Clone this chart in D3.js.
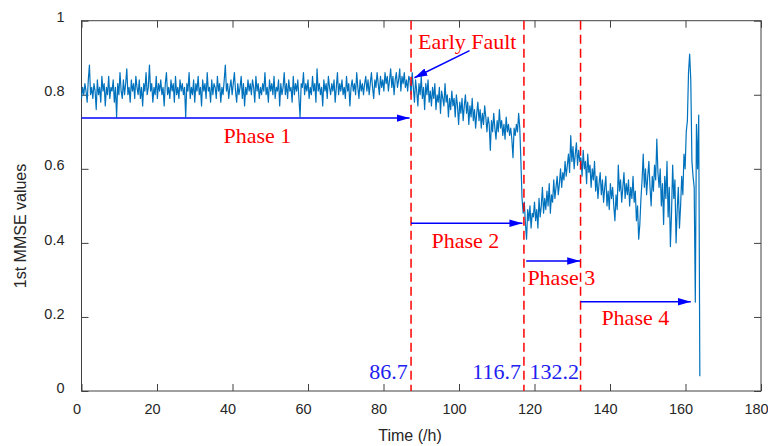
<!DOCTYPE html>
<html>
<head>
<meta charset="utf-8">
<script src="https://cdn.jsdelivr.net/npm/d3@7"></script>
<style>
  body { margin: 0; background: #fff; }
  svg { display: block; }
  .tick text { font-family: "Liberation Sans", Arial, sans-serif; font-size: 14.5px; fill: #262626; }
  .tick line, .box { stroke: #404040; }
</style>
</head>
<body>
<div id="chart"></div>
<script>
// 1st MMSE values, one sample every 0.3 h, split by phase
let phase1_values = [
  0.79,0.82,0.80,0.83,0.81,0.78,0.84,0.88,0.80,0.82,
  0.79,0.83,0.81,0.76,0.84,0.80,0.82,0.78,0.85,0.81,
  0.83,0.77,0.82,0.80,0.85,0.79,0.82,0.81,0.84,0.78,
  0.82,0.74,0.83,0.80,0.86,0.81,0.79,0.84,0.80,0.83,
  0.87,0.80,0.82,0.78,0.84,0.81,0.83,0.79,0.85,0.82,
  0.80,0.84,0.79,0.82,0.77,0.83,0.81,0.86,0.80,0.82,
  0.88,0.81,0.83,0.78,0.82,0.80,0.85,0.79,0.83,0.81,
  0.84,0.80,0.82,0.77,0.83,0.86,0.80,0.82,0.79,0.84,
  0.81,0.83,0.78,0.85,0.80,0.82,0.79,0.84,0.81,0.83,
  0.80,0.82,0.74,0.83,0.81,0.86,0.79,0.82,0.80,0.84,
  0.78,0.83,0.81,0.85,0.80,0.82,0.77,0.84,0.81,0.83,
  0.79,0.86,0.81,0.82,0.78,0.84,0.80,0.83,0.82,0.79,
  0.85,0.81,0.83,0.78,0.82,0.80,0.84,0.88,0.81,0.83,
  0.79,0.82,0.84,0.80,0.83,0.86,0.81,0.78,0.83,0.80,
  0.82,0.85,0.79,0.83,0.77,0.82,0.80,0.84,0.81,0.83,
  0.80,0.84,0.82,0.78,0.85,0.81,0.83,0.79,0.82,0.80,
  0.83,0.81,0.86,0.80,0.82,0.78,0.84,0.81,0.83,0.80,
  0.85,0.79,0.82,0.81,0.84,0.77,0.83,0.80,0.82,0.86,
  0.80,0.83,0.79,0.84,0.81,0.82,0.78,0.85,0.80,0.83,
  0.81,0.84,0.79,0.74,0.83,0.82,0.86,0.80,0.83,0.81,
  0.84,0.79,0.82,0.80,0.85,0.81,0.83,0.78,0.87,0.81,
  0.83,0.80,0.82,0.77,0.84,0.81,0.83,0.79,0.85,0.82,
  0.80,0.83,0.81,0.84,0.78,0.82,0.86,0.80,0.83,0.81,
  0.84,0.80,0.82,0.79,0.85,0.81,0.83,0.77,0.82,0.84,
  0.81,0.83,0.80,0.86,0.82,0.79,0.84,0.81,0.83,0.80,
  0.83,0.85,0.81,0.84,0.80,0.83,0.86,0.82,0.79,0.84,
  0.82,0.86,0.83,0.80,0.85,0.82,0.84,0.81,0.86,0.83,
  0.85,0.81,0.84,0.87,0.82,0.85,0.80,0.84,0.86,0.82,
  0.84,0.87,0.81,0.85,0.83,0.86,0.82,0.84,0.81,0.85
];
let phase2_values = [
  0.84,0.80,0.86,0.82,0.78,0.84,0.81,0.77,0.83,0.80,
  0.85,0.79,0.82,0.76,0.83,0.80,0.84,0.78,0.81,0.77,
  0.82,0.79,0.83,0.76,0.80,0.78,0.82,0.75,0.81,0.79,
  0.77,0.83,0.78,0.80,0.74,0.79,0.76,0.81,0.77,0.79,
  0.74,0.80,0.77,0.72,0.78,0.75,0.79,0.73,0.77,0.80,
  0.75,0.78,0.72,0.77,0.74,0.79,0.73,0.76,0.71,0.75,
  0.78,0.73,0.76,0.71,0.75,0.72,0.77,0.74,0.70,0.74,
  0.72,0.65,0.73,0.70,0.75,0.71,0.68,0.73,0.70,0.76,
  0.71,0.73,0.69,0.72,0.68,0.74,0.70,0.72,0.69,0.71,
  0.68,0.63,0.71,0.69,0.72,0.70,0.75,0.71,0.62,0.52
];
let phase3_values = [
  0.48,0.51,0.45,0.41,0.49,0.46,0.50,0.44,0.48,0.47,
  0.51,0.46,0.49,0.44,0.52,0.47,0.50,0.55,0.48,0.52,
  0.49,0.54,0.50,0.56,0.48,0.53,0.51,0.57,0.52,0.55,
  0.58,0.53,0.56,0.60,0.55,0.59,0.57,0.62,0.58,0.61,
  0.64,0.59,0.69,0.62,0.66,0.60,0.64,0.67,0.61,0.65
];
let phase4_values = [
  0.62,
  0.63,0.58,0.65,0.60,0.62,0.56,0.64,0.59,0.61,0.55,
  0.60,0.57,0.62,0.54,0.58,0.52,0.56,0.59,0.53,0.57,
  0.51,0.55,0.58,0.50,0.54,0.49,0.56,0.52,0.55,0.50,
  0.46,0.53,0.49,0.61,0.54,0.57,0.51,0.55,0.59,0.52,
  0.56,0.53,0.57,0.50,0.55,0.52,0.58,0.51,0.54,0.46,
  0.50,0.41,0.45,0.52,0.57,0.64,0.55,0.60,0.53,0.58,
  0.62,0.55,0.50,0.58,0.54,0.61,0.57,0.68,0.59,0.55,
  0.60,0.50,0.56,0.45,0.58,0.52,0.62,0.47,0.55,0.39,
  0.48,0.61,0.52,0.57,0.40,0.49,0.55,0.44,0.50,0.58,
  0.53,0.64,0.60,0.70,0.73,0.86,0.91,0.84,0.62,0.58,
  0.55,0.24,0.72,0.60,0.745,0.04
];
let sample_step = 0.3;

let x_ticks = [0, 20, 40, 60, 80, 100, 120, 140, 160, 180];
let y_ticks = [0, 0.2, 0.4, 0.6, 0.8, 1];

// phase boundaries (dashed lines) and their labels
let boundary_t = [87.3, 117.2, 132.2];
let boundary_text = ['86.7', '116.7', '132.2'];
let boundary_text_t = [86.4, 116.4, 118.7];
let boundary_text_anchor = ['end', 'end', 'start'];
let boundary_text_v = 0.032;

// phase arrows: start t, end t, value
let phase_names = ['Phase 1', 'Phase 2', 'Phase 3', 'Phase 4'];
let phase_arrow_from = [0, 87.3, 117.8, 132.2];
let phase_arrow_to = [86.9, 116.8, 132.1, 161.4];
let phase_arrow_v = [0.737, 0.453, 0.351, 0.241];
let phase_text_t = [46.6, 101.7, 127.1, 146.7];
let phase_text_v = [0.67, 0.387, 0.286, 0.178];

let fault_arrow = [102.8, 0.919, 88.2, 0.846];
let fault_text = [102.2, 0.924];

let all_values = phase1_values.concat(phase2_values, phase3_values, phase4_values);
let data = all_values.map((v, i) => [i * sample_step, v]);

let chart_width = 768;
let chart_height = 446;
let plot_left = 81.5, plot_right = 761, plot_top = 20.7, plot_bottom = 391;

let svg = d3.select('#chart')
            .append('svg')
            .attr('width', chart_width)
            .attr('height', chart_height);

let x_scale = d3.scaleLinear()
            .domain([0, 180])
            .range([plot_left, plot_right]);

let y_scale = d3.scaleLinear()
            .domain([0, 1])
            .range([plot_bottom, plot_top]);

//arrow heads
let defs = svg.append('defs');
defs.append('marker')
  .attr('id', 'head')
  .attr('markerUnits', 'userSpaceOnUse')
  .attr('viewBox', '0 -5 14 10')
  .attr('refX', 13)
  .attr('refY', 0)
  .attr('markerWidth', 14)
  .attr('markerHeight', 10)
  .attr('orient', 'auto')
  .append('path')
  .attr('d', 'M0,-3.8L13,0L0,3.8Z')
  .attr('fill', '#0000ff');

//axis
let x_axis = d3.axisBottom(x_scale)
  .tickValues(x_ticks)
  .tickFormat(d3.format('d'))
  .tickSizeInner(-7)
  .tickSizeOuter(0)
  .tickPadding(13);

svg.append('g')
  .attr('transform', 'translate(0,' + plot_bottom + ')')
  .call(x_axis)
  .call(g => g.select('.domain').remove())
  .call(g => g.selectAll('text').attr('dx', -5));

svg.append('g')
  .attr('transform', 'translate(0,' + plot_top + ')')
  .call(d3.axisTop(x_scale).tickValues(x_ticks).tickFormat('').tickSizeInner(-7).tickSizeOuter(0))
  .call(g => g.select('.domain').remove());

let y_axis = d3.axisLeft(y_scale)
  .tickValues(y_ticks)
  .tickFormat(d => d)
  .tickSizeInner(-7)
  .tickSizeOuter(0)
  .tickPadding(17);

svg.append('g')
  .attr('transform', 'translate(' + plot_left + ',0)')
  .call(y_axis)
  .call(g => g.select('.domain').remove())
  .call(g => g.selectAll('text').attr('dy', '0.08em'));

svg.append('g')
  .attr('transform', 'translate(' + plot_right + ',0)')
  .call(d3.axisRight(y_scale).tickValues(y_ticks).tickFormat('').tickSizeInner(-7).tickSizeOuter(0))
  .call(g => g.select('.domain').remove());

svg.append('rect')
  .attr('class', 'box')
  .attr('x', plot_left)
  .attr('y', plot_top)
  .attr('width', plot_right - plot_left)
  .attr('height', plot_bottom - plot_top)
  .attr('fill', 'none')
  .attr('stroke-width', 1);

svg.append('text')
  .attr('x', 410)
  .attr('y', 441)
  .attr('text-anchor', 'middle')
  .attr('font-family', '"Liberation Sans", Arial, sans-serif')
  .attr('font-size', 16)
  .attr('fill', '#262626')
  .text('Time (/h)');

svg.append('text')
  .attr('transform', 'translate(26,226) rotate(-90)')
  .attr('text-anchor', 'middle')
  .attr('font-family', '"Liberation Sans", Arial, sans-serif')
  .attr('font-size', 16)
  .attr('fill', '#262626')
  .text('1st MMSE values');

//series
let line = d3.line()
  .x(d => x_scale(d[0]))
  .y(d => y_scale(d[1]));

svg.append('path')
  .datum(data)
  .attr('d', line)
  .attr('fill', 'none')
  .attr('stroke', '#0072bd')
  .attr('stroke-width', 1.2)
  .attr('stroke-linejoin', 'round');

//phase boundaries
svg.selectAll('.boundary')
  .data(boundary_t)
  .enter()
  .append('line')
  .attr('class', 'boundary')
  .attr('x1', d => x_scale(d))
  .attr('x2', d => x_scale(d))
  .attr('y1', y_scale(1))
  .attr('y2', y_scale(0))
  .attr('stroke', '#ff0000')
  .attr('stroke-width', 1.5)
  .attr('stroke-dasharray', '9,5');

svg.selectAll('.boundary-text')
  .data(boundary_text)
  .enter()
  .append('text')
  .attr('x', (d, i) => x_scale(boundary_text_t[i]))
  .attr('y', y_scale(boundary_text_v))
  .attr('text-anchor', (d, i) => boundary_text_anchor[i])
  .attr('font-family', '"Liberation Serif", "Times New Roman", serif')
  .attr('font-size', 22)
  .attr('fill', '#2020f0')
  .text(d => d);

//phase arrows
svg.selectAll('.phase-arrow')
  .data(phase_names)
  .enter()
  .append('line')
  .attr('class', 'phase-arrow')
  .attr('x1', (d, i) => x_scale(phase_arrow_from[i]))
  .attr('x2', (d, i) => x_scale(phase_arrow_to[i]))
  .attr('y1', (d, i) => y_scale(phase_arrow_v[i]))
  .attr('y2', (d, i) => y_scale(phase_arrow_v[i]))
  .attr('stroke', '#0000ff')
  .attr('stroke-width', 1.5)
  .attr('marker-end', 'url(#head)');

svg.selectAll('.phase-text')
  .data(phase_names)
  .enter()
  .append('text')
  .attr('x', (d, i) => x_scale(phase_text_t[i]))
  .attr('y', (d, i) => y_scale(phase_text_v[i]))
  .attr('text-anchor', 'middle')
  .attr('font-family', '"Liberation Serif", "Times New Roman", serif')
  .attr('font-size', 22)
  .attr('fill', '#ff0000')
  .text(d => d);

// early fault pointer
svg.append('line')
  .attr('x1', x_scale(fault_arrow[0]))
  .attr('y1', y_scale(fault_arrow[1]))
  .attr('x2', x_scale(fault_arrow[2]))
  .attr('y2', y_scale(fault_arrow[3]))
  .attr('stroke', '#0000ff')
  .attr('stroke-width', 1.5)
  .attr('marker-end', 'url(#head)');

svg.append('text')
  .attr('x', x_scale(fault_text[0]))
  .attr('y', y_scale(fault_text[1]))
  .attr('text-anchor', 'middle')
  .attr('font-family', '"Liberation Serif", "Times New Roman", serif')
  .attr('font-size', 22)
  .attr('fill', '#ff0000')
  .text('Early Fault');
</script>
</body>
</html>
